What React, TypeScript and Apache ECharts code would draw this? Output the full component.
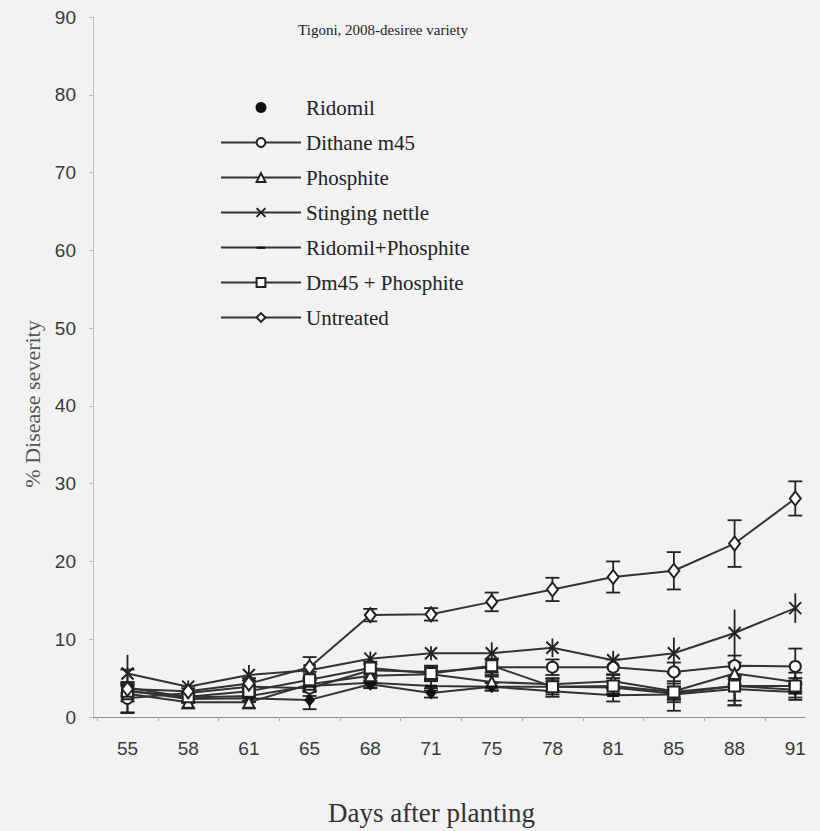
import React, { useEffect, useRef } from 'react';
import * as echarts from 'echarts';

// Days after planting (category labels)
const days = ['55', '58', '61', '65', '68', '71', '75', '78', '81', '85', '88', '91'];

// % disease severity per treatment
const ridomil = [3.4, 2.3, 2.4, 2.2, 4.2, 3.1, 3.9, 3.9, 3.8, 3.0, 4.0, 3.5];
const ridomilErr = [0.8, 0.5, 0.5, 1.2, 0.5, 0.6, 0.5, 0.7, 0.8, 0.8, 2.5, 1.0];
const dithane = [2.4, 3.1, 3.9, 3.7, 6.0, 5.8, 6.4, 6.4, 6.4, 5.8, 6.6, 6.5];
const dithaneErr = [1.8, 0.6, 0.8, 1.0, 0.8, 0.8, 1.0, 1.0, 1.0, 1.2, 1.3, 2.3];
const phosphite = [3.0, 1.9, 1.9, 4.2, 5.3, 5.5, 4.5, 4.2, 4.6, 3.3, 5.6, 4.5];
const phosphiteErr = [1.0, 0.8, 0.8, 0.8, 0.8, 0.6, 0.7, 0.8, 0.9, 1.0, 1.4, 1.2];
const nettle = [5.6, 3.9, 5.4, 6.0, 7.5, 8.2, 8.2, 8.9, 7.3, 8.2, 10.8, 14.0];
const nettleErr = [2.4, 0.8, 1.3, 1.2, 0.9, 0.9, 1.4, 1.2, 1.2, 2.0, 3.0, 1.9];
const ridomilPhos = [3.8, 2.5, 2.7, 4.0, 4.4, 4.0, 3.9, 3.3, 2.8, 2.9, 3.6, 3.2];
const ridomilPhosErr = [0.7, 0.5, 0.6, 0.8, 0.6, 0.6, 0.5, 0.7, 0.8, 1.0, 1.5, 1.0];
const dm45Phos = [3.3, 2.6, 3.3, 4.8, 6.3, 5.6, 6.6, 3.9, 4.0, 3.2, 4.0, 4.0];
const dm45PhosErr = [2.8, 0.6, 0.8, 1.0, 0.8, 0.8, 0.9, 1.0, 1.0, 2.4, 2.5, 1.0];
const untreated = [3.6, 3.3, 4.3, 6.4, 13.1, 13.2, 14.8, 16.4, 18.0, 18.8, 22.3, 28.1];
const untreatedErr = [0.8, 0.7, 0.7, 1.3, 0.8, 0.8, 1.2, 1.5, 2.0, 2.4, 3.0, 2.2];

const INK = '#222';

type Spec = {
  name: string;
  values: number[];
  errs: number[];
  symbol: string;
  symbolSize: number | number[];
  fill: string;
  caps: boolean;
};

const specs: Spec[] = [
  { name: 'Ridomil', values: ridomil, errs: ridomilErr, symbol: 'diamond', symbolSize: [11, 13], fill: '#111', caps: true },
  { name: 'Dithane m45', values: dithane, errs: dithaneErr, symbol: 'circle', symbolSize: 11, fill: '#fff', caps: true },
  { name: 'Phosphite', values: phosphite, errs: phosphiteErr, symbol: 'triangle', symbolSize: 11, fill: '#fff', caps: true },
  { name: 'Stinging nettle', values: nettle, errs: nettleErr, symbol: 'path://M0,0L10,10M10,0L0,10', symbolSize: 12, fill: 'none', caps: false },
  { name: 'Ridomil+Phosphite', values: ridomilPhos, errs: ridomilPhosErr, symbol: 'path://M0,0M0,10M0,4H10V6.5H0Z', symbolSize: 12, fill: '#111', caps: true },
  { name: 'Dm45 + Phosphite', values: dm45Phos, errs: dm45PhosErr, symbol: 'rect', symbolSize: 11, fill: '#fff', caps: true },
  { name: 'Untreated', values: untreated, errs: untreatedErr, symbol: 'diamond', symbolSize: [11, 14], fill: '#fff', caps: true },
];

export default function App() {
  const ref = useRef<HTMLDivElement>(null);

  useEffect(() => {
    if (!ref.current) return;
    const chart = echarts.init(ref.current, null, { renderer: 'svg' });

    const boundaries = days.map((_, i) => i - 0.5);
    const indices = days.map((_, i) => i);

    const errorSeries = specs.map((s) => ({
      type: 'custom',
      name: 'err-' + s.name,
      z: 2,
      silent: true,
      encode: { x: 0, y: [1, 2] },
      data: s.values.map((v, i) => [i, Math.max(0, v - s.errs[i]), v + s.errs[i]]),
      renderItem: (params: any, api: any) => {
        const x = api.value(0);
        const lo = api.coord([x, api.value(1)]);
        const hi = api.coord([x, api.value(2)]);
        const w = 7;
        const style = { stroke: INK, lineWidth: 1.8 };
        const children: any[] = [
          { type: 'line', shape: { x1: lo[0], y1: lo[1], x2: hi[0], y2: hi[1] }, style },
        ];
        if (s.caps) {
          children.push({ type: 'line', shape: { x1: lo[0] - w, y1: lo[1], x2: lo[0] + w, y2: lo[1] }, style });
          children.push({ type: 'line', shape: { x1: hi[0] - w, y1: hi[1], x2: hi[0] + w, y2: hi[1] }, style });
        }
        return { type: 'group', children };
      },
    }));

    const lineSeries = specs.map((s) => ({
      type: 'line',
      name: s.name,
      z: 3,
      data: s.values.map((v, i) => [i, v]),
      symbol: s.symbol,
      symbolSize: s.symbolSize,
      symbolKeepAspect: false,
      showSymbol: true,
      lineStyle: { color: '#333', width: 2 },
      itemStyle: { color: s.fill, borderColor: INK, borderWidth: s.fill === '#111' ? 0 : 2 },
      emphasis: { disabled: true },
    }));

    const legendData = specs.map((s) =>
      s.name === 'Ridomil'
        ? { name: s.name, icon: 'circle', itemStyle: { color: '#111', borderWidth: 0 } }
        : { name: s.name }
    );

    const option: any = {
      animation: false,
      backgroundColor: '#f2f2f2',
      grid: { left: 93, right: 15, top: 17, bottom: 114 },
      legend: {
        orient: 'vertical',
        left: 220,
        top: 97,
        padding: 0,
        itemWidth: 80,
        itemHeight: 11,
        itemGap: 14,
        selectedMode: false,
        data: legendData,
        textStyle: { fontFamily: 'Liberation Serif', fontSize: 21, color: '#222' },
      },
      xAxis: {
        type: 'value',
        min: -0.568,
        max: 11.16,
        splitLine: { show: false },
        axisLine: { show: true, onZero: false, lineStyle: { color: '#8c8c8c', width: 1 } },
        axisTick: { show: true, customValues: boundaries, length: 4, lineStyle: { color: '#aaa' } },
        axisLabel: {
          customValues: indices,
          formatter: (v: number) => days[Math.round(v)] ?? '',
          margin: 22,
          fontFamily: 'Liberation Sans',
          fontSize: 19,
          color: '#3a3a3a',
        },
      },
      yAxis: {
        type: 'value',
        min: 0,
        max: 90,
        interval: 10,
        splitLine: { show: false },
        axisLine: { show: true, onZero: false, lineStyle: { color: '#bdbdbd', width: 1 } },
        axisTick: { show: true, length: 4, lineStyle: { color: '#bbb' } },
        axisLabel: { margin: 17, fontFamily: 'Liberation Sans', fontSize: 19, color: '#3a3a3a' },
      },
      graphic: [
        {
          type: 'text',
          x: 383,
          y: 30,
          style: {
            text: 'Tigoni, 2008-desiree variety',
            font: '15px "Liberation Serif"',
            fill: '#222',
            align: 'center',
            verticalAlign: 'middle',
          },
        },
        {
          type: 'text',
          x: 32,
          y: 404,
          rotation: Math.PI / 2,
          style: {
            text: '% Disease severity',
            font: '22px "Liberation Serif"',
            fill: '#555',
            align: 'center',
            verticalAlign: 'middle',
          },
        },
        {
          type: 'text',
          x: 328,
          y: 813,
          style: {
            text: 'Days after planting',
            font: '27px "Liberation Serif"',
            fill: '#333',
            align: 'left',
            verticalAlign: 'middle',
          },
        },
      ],
      series: [...errorSeries, ...lineSeries],
    };

    chart.setOption(option);
    return () => chart.dispose();
  }, []);

  return <div ref={ref} style={{ position: 'absolute', left: 0, top: 0, width: 820, height: 831 }} />;
}
